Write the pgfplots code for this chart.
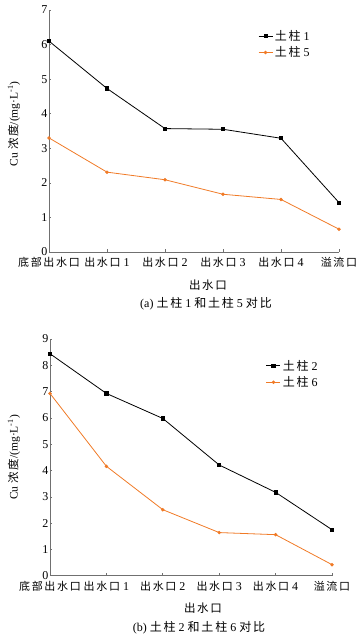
\documentclass[border=0pt]{standalone}
\usepackage{fontspec}
\usepackage{pgfplots}
\pgfplotsset{compat=1.18}
\setmainfont{Liberation Serif}
\newfontfamily\cjk[LetterSpace=15]{Noto Sans CJK SC}
\definecolor{myorange}{HTML}{F07A26}
\definecolor{axgray}{HTML}{707070}
\newcommand{\dg}[1]{\fontsize{12}{12}\selectfont\ #1}
\pgfplotsset{
  mystyle/.style={
    scale only axis,
    xmin=0, xmax=5, ymin=0,
    axis x line*=bottom, axis y line*=left,
    axis line style={axgray, line width=0.8pt, -},
    tick style={axgray, line width=0.6pt},
    tick align=inside,
    major tick length=2.5pt,
    xtick={0,1,2,3,4,5},
    xticklabel style={font=\fontsize{11}{12}\selectfont, inner sep=0.5pt, yshift=-5pt},
    yticklabel style={font=\fontsize{12}{12}\selectfont, inner sep=0.5pt, xshift=-1pt},
    /pgf/number format/assume math mode=true,
    clip=false,
    ylabel={Cu {\cjk 浓度}/(mg·L\textsuperscript{-1})},
    legend cell align=left,
    legend style={draw=none, fill=none, font=\fontsize{12}{13}\selectfont, anchor=north west, row sep=1pt, inner sep=1pt,
      legend image code/.code={\draw[mark repeat=2,mark phase=2,##1] plot coordinates {(0pt,0pt) (7pt,0pt) (14pt,0pt)};}},
  },
  blk/.style={black, line width=0.8pt, mark=square*, mark size=1.6pt, mark options={solid}},
  org/.style={myorange, line width=0.8pt, mark=*, mark size=1.3pt, mark options={solid}},
}
\begin{document}
\begin{tikzpicture}
\useasboundingbox (0pt,0pt) rectangle (362pt,638pt);
% ---- (a) ----
\begin{axis}[mystyle,
  at={(49pt,386pt)}, anchor=south west,
  width=290pt, height=242pt,
  ymax=7, ytick={0,1,...,7},
  xticklabels={{\cjk 底部出水口}, {\cjk 出水口}\dg{1}, {\cjk 出水口}\dg{2}, {\cjk 出水口}\dg{3}, {\cjk 出水口}\dg{4}, {\cjk 溢流口}},
  ylabel style={font=\fontsize{11.5}{12}\selectfont, at={(axis description cs:-0.121,0.53)}, anchor=center},
  legend style={at={(rel axis cs:0.717,0.93)}},
]
\addplot[blk] coordinates {(0,6.10) (1,4.73) (2,3.57) (3,3.55) (4,3.29) (5,1.43)};
\addlegendentry{{\cjk 土柱} 1}
\addplot[org] coordinates {(0,3.30) (1,2.31) (2,2.09) (3,1.67) (4,1.52) (5,0.66)};
\addlegendentry{{\cjk 土柱} 5}
\end{axis}
\node[font=\fontsize{11.5}{12}\selectfont] at (208pt,353pt) {\cjk 出水口};
\node[font=\fontsize{12}{12}\selectfont] at (206pt,334pt) {(a) {\cjk 土柱} 1 {\cjk 和土柱} 5 {\cjk 对比}};
% ---- (b) ----
\begin{axis}[mystyle,
  at={(50pt,62.3pt)}, anchor=south west,
  width=282pt, height=236.7pt,
  ymax=9, ytick={0,1,...,9},
  xticklabels={{\cjk 底部出水口}, {\cjk 出水口}\dg{1}, {\cjk 出水口}\dg{2}, {\cjk 出水口}\dg{3}, {\cjk 出水口}\dg{4}, {\cjk 溢流口}},
  ylabel style={font=\fontsize{11.5}{12}\selectfont, at={(axis description cs:-0.128,0.5)}, anchor=center},
  legend style={at={(rel axis cs:0.762,0.925)}},
]
\addplot[blk] coordinates {(0,8.44) (1,6.93) (2,5.98) (3,4.21) (4,3.17) (5,1.75)};
\addlegendentry{{\cjk 土柱} 2}
\addplot[org] coordinates {(0,6.93) (1,4.16) (2,2.51) (3,1.64) (4,1.56) (5,0.42)};
\addlegendentry{{\cjk 土柱} 6}
\end{axis}
\node[font=\fontsize{11.5}{12}\selectfont] at (203pt,30pt) {\cjk 出水口};
\node[font=\fontsize{12}{12}\selectfont] at (199pt,10pt) {(b) {\cjk 土柱} 2 {\cjk 和土柱} 6 {\cjk 对比}};
\end{tikzpicture}
\end{document}
